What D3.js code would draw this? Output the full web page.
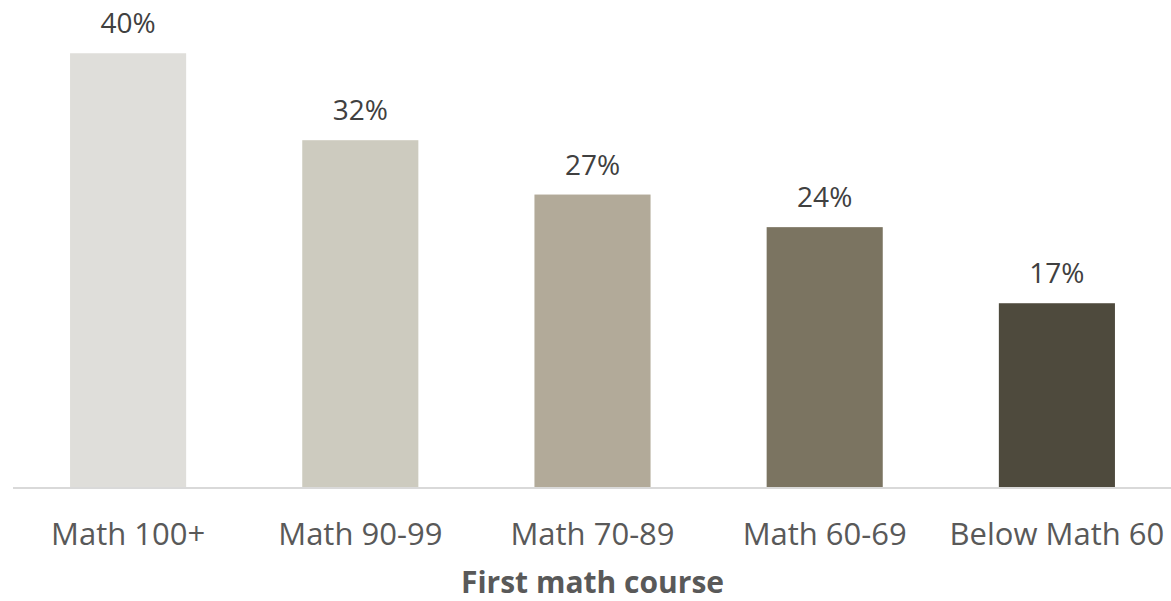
<!DOCTYPE html>
<html>
<head>
<meta charset="utf-8">
<script src="https://cdn.jsdelivr.net/npm/d3@7"></script>
<style>
  html, body { margin: 0; padding: 0; background: #fff; }
  svg { display: block; }
  text { font-family: "Open Sans", Lato, sans-serif; }
</style>
</head>
<body>
<svg id="chart" width="1171" height="601"></svg>
<script>
// Share of students by first math course
const categories = ["Math 100+", "Math 90-99", "Math 70-89", "Math 60-69", "Below Math 60"];
const values = [40, 32, 27, 24, 17];
const barColors = ["#dfdeda", "#cdcbbf", "#b2aa99", "#7b7461", "#4e4a3d"];
const axisTitle = "First math course";

const width = 1171, height = 601;
const margin = { top: 0, right: -2, bottom: 113, left: 12 };
const innerW = width - margin.left - margin.right;
const innerH = height - margin.top - margin.bottom;

const svg = d3.select("#chart");
const g = svg.append("g").attr("transform", `translate(${margin.left},${margin.top})`);

const x = d3.scaleBand().domain(categories).range([0, innerW]).paddingInner(0.5).paddingOuter(0.25);
const y = d3.scaleLinear().domain([0, 44.9]).range([innerH, 0]);

g.selectAll("rect.bar")
  .data(values)
  .join("rect")
  .attr("class", "bar")
  .attr("x", (d, i) => x(categories[i]))
  .attr("y", d => y(d))
  .attr("width", x.bandwidth())
  .attr("height", d => innerH - y(d))
  .attr("fill", (d, i) => barColors[i]);

g.selectAll("text.val")
  .data(values)
  .join("text")
  .attr("class", "val")
  .attr("x", (d, i) => x(categories[i]) + x.bandwidth() / 2)
  .attr("y", d => y(d) - 20)
  .attr("text-anchor", "middle")
  .attr("font-size", 28)
  .attr("fill", "#404040")
  .text(d => d + "%");

const xAxis = g.append("g")
  .attr("transform", `translate(0,${innerH})`)
  .call(d3.axisBottom(x).tickSize(0).tickPadding(35));
xAxis.select(".domain").attr("stroke", "#d9d9d9").attr("stroke-width", 2)
  .attr("d", `M1,0H${innerW}`);
xAxis.selectAll(".tick text")
  .attr("font-size", 31)
  .attr("fill", "#595959")
  .style("font-family", "'Open Sans', Lato, sans-serif");

g.append("text")
  .attr("x", innerW / 2)
  .attr("y", innerH + 105)
  .attr("text-anchor", "middle")
  .attr("font-size", 30)
  .attr("font-weight", "bold")
  .attr("fill", "#595959")
  .text(axisTitle);
</script>
</body>
</html>
